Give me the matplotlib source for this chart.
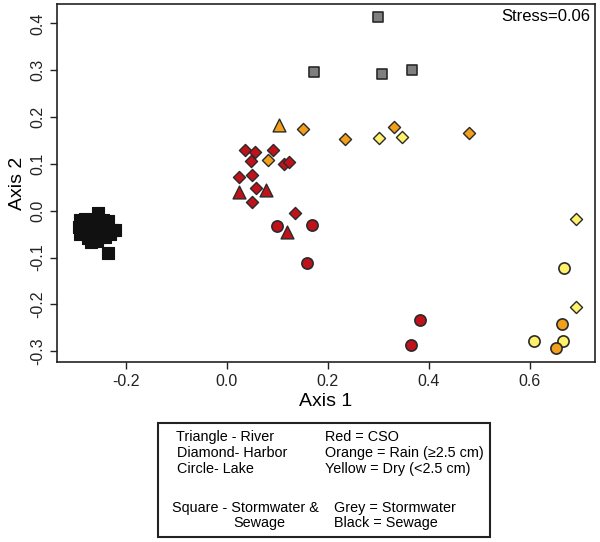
import matplotlib.pyplot as plt
from matplotlib.patches import Rectangle

plt.rcParams['font.family'] = ['Liberation Sans', 'DejaVu Sans']

# NMDS coordinates, grouped by site type / condition
black_sq_x = [-0.290, -0.280, -0.270, -0.255, -0.245, -0.235,
              -0.292, -0.282, -0.268, -0.258, -0.248, -0.237, -0.228, -0.222,
              -0.290, -0.278, -0.265, -0.255, -0.243, -0.232,
              -0.275, -0.262, -0.250, -0.240, -0.268, -0.257, -0.235]
black_sq_y = [-0.020, -0.017, -0.020, -0.005, -0.020, -0.022,
              -0.035, -0.032, -0.030, -0.028, -0.035, -0.033, -0.040, -0.040,
              -0.050, -0.045, -0.042, -0.048, -0.045, -0.050,
              -0.058, -0.062, -0.057, -0.055, -0.067, -0.065, -0.090]

grey_sq_x = [0.299, 0.174, 0.307, 0.367]
grey_sq_y = [0.413, 0.296, 0.293, 0.301]

red_dia_x = [0.037, 0.056, 0.048, 0.091, 0.114, 0.124, 0.025, 0.051, 0.058, 0.050, 0.136]
red_dia_y = [0.130, 0.125, 0.107, 0.130, 0.100, 0.105, 0.073, 0.077, 0.048, 0.019, -0.004]

red_tri_x = [0.024, 0.078, 0.119]
red_tri_y = [0.040, 0.045, -0.046]

orange_tri_x = [0.103]
orange_tri_y = [0.184]

red_cir_x = [0.100, 0.170, 0.159, 0.382, 0.366]
red_cir_y = [-0.033, -0.031, -0.111, -0.233, -0.287]

orange_dia_x = [0.152, 0.082, 0.235, 0.332, 0.480]
orange_dia_y = [0.175, 0.108, 0.153, 0.179, 0.166]

yellow_dia_x = [0.301, 0.347, 0.691, 0.692]
yellow_dia_y = [0.155, 0.158, -0.018, -0.206]

yellow_cir_x = [0.668, 0.608, 0.667]
yellow_cir_y = [-0.122, -0.278, -0.278]

orange_cir_x = [0.664, 0.652]
orange_cir_y = [-0.242, -0.293]

RED = '#C0121A'
ORANGE = '#F2A01A'
YELLOW = '#FFF16A'
GREY = '#7F7F7F'

fig = plt.figure(figsize=(6.0, 5.42), dpi=100)
ax = fig.add_axes([0.095, 0.332, 0.897, 0.661])

edge = '#2a2a2a'
ax.scatter(black_sq_x, black_sq_y, marker='s', s=70, c='#111111', edgecolors='#111111', linewidths=0.8, zorder=3)
ax.scatter(grey_sq_x, grey_sq_y, marker='s', s=60, c=GREY, edgecolors=edge, linewidths=1.2, zorder=3)
ax.scatter(red_dia_x, red_dia_y, marker='D', s=38, c=RED, edgecolors=edge, linewidths=1.0, zorder=3)
ax.scatter(orange_dia_x, orange_dia_y, marker='D', s=38, c=ORANGE, edgecolors=edge, linewidths=1.0, zorder=3)
ax.scatter(yellow_dia_x, yellow_dia_y, marker='D', s=38, c=YELLOW, edgecolors=edge, linewidths=1.0, zorder=3)
ax.scatter(red_tri_x, red_tri_y, marker='^', s=85, c=RED, edgecolors=edge, linewidths=1.0, zorder=3)
ax.scatter(orange_tri_x, orange_tri_y, marker='^', s=85, c=ORANGE, edgecolors=edge, linewidths=1.0, zorder=3)
ax.scatter(red_cir_x, red_cir_y, marker='o', s=65, c=RED, edgecolors=edge, linewidths=1.2, zorder=3)
ax.scatter(yellow_cir_x, yellow_cir_y, marker='o', s=65, c=YELLOW, edgecolors=edge, linewidths=1.2, zorder=3)
ax.scatter(orange_cir_x, orange_cir_y, marker='o', s=65, c=ORANGE, edgecolors=edge, linewidths=1.2, zorder=3)

ax.set_xlim(-0.336, 0.730)
ax.set_ylim(-0.323, 0.442)
ax.set_xticks([-0.2, 0.0, 0.2, 0.4, 0.6])
ax.set_xticklabels(['-0.2', '0.0', '0.2', '0.4', '0.6'])
ax.set_yticks([-0.3, -0.2, -0.1, 0.0, 0.1, 0.2, 0.3, 0.4])
ax.set_yticklabels(['-0.3', '-0.2', '-0.1', '0.0', '0.1', '0.2', '0.3', '0.4'],
                   rotation=90, va='center')
ax.tick_params(direction='out', length=5, width=1, labelsize=11.5, colors='#222222')
for sp in ax.spines.values():
    sp.set_linewidth(1.2)
    sp.set_color('#222222')

ax.set_xlabel('Axis 1', fontsize=14, labelpad=3)
ax.set_ylabel('Axis 2', fontsize=14, labelpad=3)
ax.text(0.99, 0.985, 'Stress=0.06', transform=ax.transAxes, ha='right', va='top', fontsize=12)

# legend-like key box below the plot
fig.patches.append(Rectangle((158 / 600, 1 - 537 / 542), (490 - 158) / 600, (537 - 423) / 542,
                             transform=fig.transFigure, fill=False, edgecolor='#222222', linewidth=1.5))
fs = 10.4
left_items = [(176, 437, 'Triangle - River'), (177, 453, 'Diamond- Harbor'), (177, 469, 'Circle- Lake'),
              (172, 508, 'Square - Stormwater &'), (233, 523, 'Sewage')]
right_items = [(325, 437, 'Red = CSO'), (325, 453, 'Orange = Rain (\u22652.5 cm)'),
               (325, 469, 'Yellow = Dry (<2.5 cm)'), (334, 508, 'Grey = Stormwater'),
               (334, 523, 'Black = Sewage')]
for px, py, t in left_items + right_items:
    fig.text(px / 600, 1 - py / 542, t, fontsize=fs, ha='left', va='center')

fig.savefig('out.png', dpi=100)
